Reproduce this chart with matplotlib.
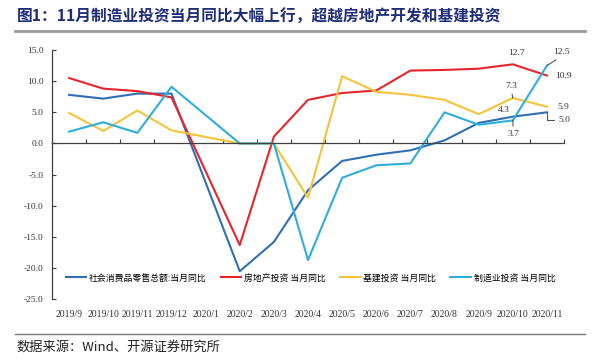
import numpy as np
import matplotlib
matplotlib.use("Agg")
import matplotlib.pyplot as plt

plt.rcParams["font.family"] = ["Noto Sans CJK SC", "DejaVu Sans"]

months = ["2019/9", "2019/10", "2019/11", "2019/12", "2020/1", "2020/2", "2020/3",
          "2020/4", "2020/5", "2020/6", "2020/7", "2020/8", "2020/9", "2020/10", "2020/11"]
nan = np.nan
retail = [7.8, 7.2, 8.0, 8.0, nan, -20.5, -15.8, -7.5, -2.8, -1.8, -1.1, 0.5, 3.3, 4.3, 5.0]
realty = [10.5, 8.8, 8.4, 7.4, nan, -16.3, 1.1, 7.0, 8.1, 8.5, 11.7, 11.8, 12.0, 12.7, 10.9]
infra = [4.9, 2.0, 5.3, 2.1, nan, 0.0, 0.0, -8.7, 10.8, 8.3, 7.8, 7.0, 4.7, 7.3, 5.9]
manuf = [1.9, 3.4, 1.7, 9.1, nan, 0.0, 0.0, -18.7, -5.5, -3.5, -3.2, 5.0, 3.0, 3.7, 12.5]

series = [
    ("社会消费品零售总额:当月同比", retail, "#2f6fb3"),
    ("房地产投资 当月同比", realty, "#e4262c"),
    ("基建投资 当月同比", infra, "#f5c33b"),
    ("制造业投资 当月同比", manuf, "#2eaedd"),
]

fig = plt.figure(figsize=(6, 3.62), dpi=100)
ax = fig.add_axes([0.0867, 0.1732, 0.8533, 0.6887])

x = np.arange(len(months))
for name, vals, color in series:
    v = np.array(vals, dtype=float)
    ok = ~np.isnan(v)
    ax.plot(x[ok], v[ok], color=color, lw=1.5, label=name)

ax.set_xlim(-0.5, len(months) - 0.5)
ax.set_ylim(-25, 15)
ax.set_yticks(np.arange(-25, 16, 5))
ax.set_yticklabels([f"{t:.1f}" for t in np.arange(-25, 16, 5)],
                   family="Liberation Serif", fontsize=6.8, color="#333333")
ax.tick_params(axis="y", direction="in", length=3, width=0.8, color="#404040", pad=6)

for s in ["top", "right"]:
    ax.spines[s].set_visible(False)
ax.spines["left"].set_color("#404040")
ax.spines["left"].set_linewidth(0.9)
ax.spines["bottom"].set_position(("data", 0))
ax.spines["bottom"].set_color("#404040")
ax.spines["bottom"].set_linewidth(0.9)
ax.set_xticks(np.arange(-0.5, len(months), 1.0))
ax.set_xticklabels([])
ax.tick_params(axis="x", direction="in", length=3, width=0.8, color="#404040")

sec = ax.secondary_xaxis(0.0)
sec.set_xticks(x)
sec.set_xticklabels(months, family="Liberation Serif", fontsize=7, color="#333333")
sec.tick_params(length=0, pad=8)
sec.spines["bottom"].set_visible(False)

# value labels on the last points
lab = dict(family="Liberation Serif", fontsize=6.8, color="#333333", ha="center", va="center")
lead = dict(arrowstyle="-", color="#555555", lw=0.8, shrinkA=0, shrinkB=0)
ax.annotate("12.7", (13, realty[13]), xytext=(3, 8), textcoords="offset points", **lab)
ax.annotate("10.9", (14, realty[14]), xytext=(12, 0), textcoords="offset points", **lab)
ax.annotate("12.5", (14, manuf[14]), xytext=(10.5, 9.5), textcoords="offset points",
            arrowprops=dict(lead, relpos=(0.5, 0.0), shrinkA=1), **lab)
ax.annotate("7.3", (13, infra[13]), xytext=(-1, 8.5), textcoords="offset points",
            arrowprops=dict(lead, relpos=(0.5, 0.0), shrinkA=1), **lab)
ax.annotate("5.9", (14, infra[14]), xytext=(12, -0.5), textcoords="offset points", **lab)
ax.annotate("4.3", (13, retail[13]), xytext=(-6.5, 5), textcoords="offset points", **lab)
ax.annotate("3.7", (13, manuf[13]), xytext=(0.3, -10), textcoords="offset points",
            arrowprops=dict(lead, relpos=(0.5, 1.0), shrinkA=1), **lab)
ax.annotate("5.0", (14, retail[14]), xytext=(12.5, -5.7), textcoords="offset points",
            arrowprops=dict(lead, relpos=(0.0, 0.5), shrinkA=1,
                            connectionstyle="angle,angleA=0,angleB=90,rad=0"), **lab)

ax.legend(loc="center", bbox_to_anchor=(0.505, 0.085), ncol=4, frameon=False,
          fontsize=6.4, handlelength=2.3, handletextpad=0.3, columnspacing=1.6)

fig.text(0.028, 0.953, "图1：11月制造业投资当月同比大幅上行，超越房地产开发和基建投资",
         fontsize=11.3, fontweight="bold", color="#1f2d78", va="center")
fig.add_artist(plt.Line2D([0.025, 0.975], [0.915, 0.915], color="#9a9a9a", lw=2))
fig.add_artist(plt.Line2D([0.025, 0.975], [0.077, 0.077], color="#7a7a7a", lw=1))
fig.text(0.028, 0.041, "数据来源：Wind、开源证券研究所", fontsize=9.5, color="#222222", va="center")

fig.savefig("out.png", dpi=100)
